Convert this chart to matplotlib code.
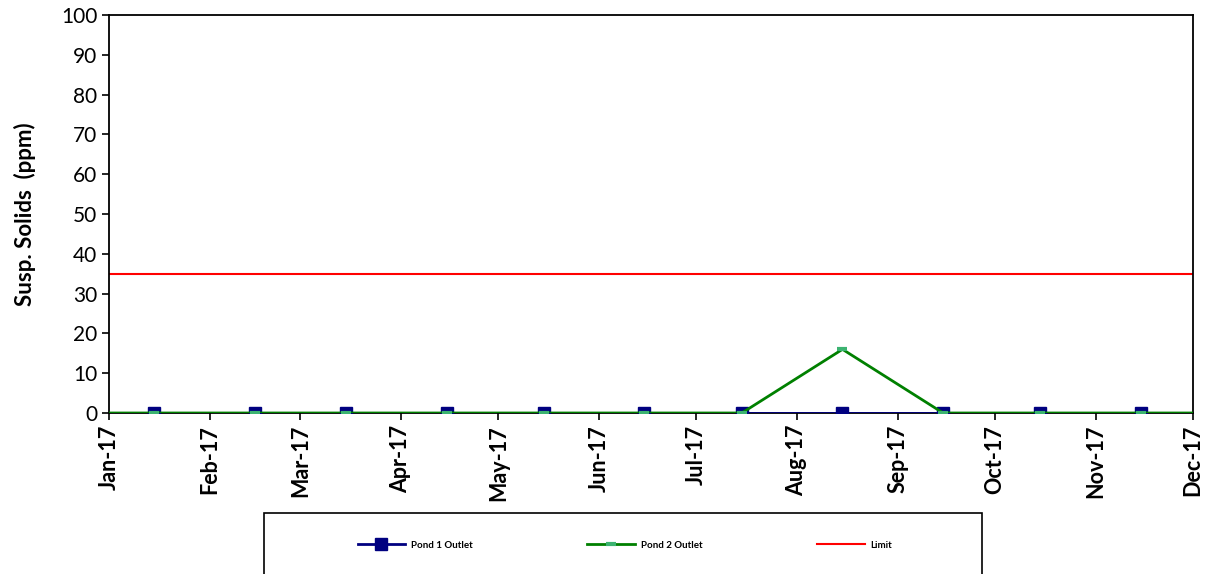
import matplotlib
matplotlib.use("Agg")
import matplotlib.pyplot as plt
import matplotlib.dates as mdates
from matplotlib.patches import Rectangle
from datetime import date

plt.rcParams['font.family'] = ['Lato', 'DejaVu Sans']

# mid-month sampling dates
dates = [date(2017, m, 15) for m in range(1, 12)]
pond1 = [0, 0, 0, 0, 0, 0, 0, 0, 0, 0, 0]

# pond 2 runs past both ends of the axis
dates2 = [date(2016, 12, 15)] + dates + [date(2017, 12, 15)]
pond2 = [0, 0, 0, 0, 0, 0, 0, 0, 16, 0, 0, 0, 0]

limit = 35
month_ticks = [date(2017, m, 1) for m in range(1, 13)]

fig = plt.figure(figsize=(12.08, 5.74), dpi=100)
ax = fig.add_axes([0.0902, 0.2805, 0.8974, 0.6934])

ax.plot(dates, pond1, color='#000080', lw=2, marker='s', ms=8.5,
        label='Pond 1 Outlet', zorder=3)
ax.plot(dates2, pond2, color='#008000', lw=2, marker='_', ms=7, mew=3,
        mec='#3CB371', label='Pond 2 Outlet', zorder=4)
ax.axhline(limit, color='#FF0000', lw=1.5, label='Limit', zorder=2)

ax.set_xlim(month_ticks[0], month_ticks[-1])
ax.set_ylim(0, 100)
ax.set_yticks(range(0, 101, 10))
ax.set_xticks(month_ticks)
ax.xaxis.set_major_formatter(mdates.DateFormatter('%b-%y'))
ax.tick_params(axis='y', labelsize=15, length=5, width=1.2, direction='out')
ax.tick_params(axis='x', labelsize=15.5, length=5, width=1.2, direction='out',
               rotation=90)
for lbl in ax.get_xticklabels():
    lbl.set_fontweight('bold')
for sp in ax.spines.values():
    sp.set_linewidth(1.3)
ax.set_ylabel('Susp. Solids  (ppm)', fontsize=16, fontweight='bold', labelpad=18)

# legend box below the plot
fig.patches.append(Rectangle((264 / 1208, -0.05), 718 / 1208, 1 - 513 / 574 + 0.05,
                             transform=fig.transFigure, fill=False,
                             edgecolor='black', lw=1.2))
h, l = ax.get_legend_handles_labels()
fig.legend(h, l, loc='center', bbox_to_anchor=(625 / 1208, 1 - 545 / 574),
           ncol=3, frameon=False, handlelength=4.9, columnspacing=11.8,
           handletextpad=0.6, prop={'size': 7, 'weight': 'bold'})

fig.savefig('out.png', dpi=100)
